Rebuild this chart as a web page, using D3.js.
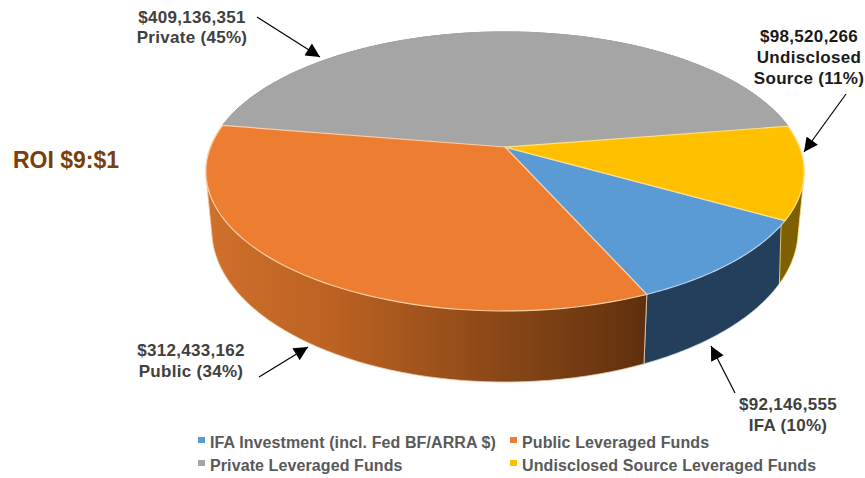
<!DOCTYPE html>
<html><head><meta charset="utf-8">
<script src="https://cdn.jsdelivr.net/npm/d3@7"></script>
<style>html,body{margin:0;padding:0;background:#fff}svg{display:block}text{font-family:"Liberation Sans",Arial,sans-serif;font-weight:bold}</style>
</head><body><svg id="c" width="865" height="478"></svg>
<script>
const categories=["IFA Investment (incl. Fed BF/ARRA $)","Public Leveraged Funds","Private Leveraged Funds","Undisclosed Source Leveraged Funds"];
const values=[92146555,312433162,409136351,98520266];
const topColors=["#5b9bd5","#ed7d31","#a5a5a5","#ffc000"];
const edgeColors=["#b9d3ec","#f9cfa8","#a5a5a5","#ffe08a"];
const valueLabels=[["$92,146,555","IFA (10%)"],["$312,433,162","Public (34%)"],["$409,136,351","Private (45%)"],["$98,520,266","Undisclosed","Source (11%)"]];
const labelColors=["#404040","#404040","#404040","#1a1a1a"];
const labelAnchors=[[788,410],[191,356],[192,23],[809,42]];
const labelLeading=[21,21,20,21];
const arrows=[[[735,393],[711,346]],[[259,377],[308,347]],[[257,17],[320,57]],[[846,94],[804,152]]];

const svg=d3.select("#c");
const cx=505,cy=147,A=294.5,B=135.2,k=0.1756;
function proj(a){ // a: d3.pie angle (clockwise from north)
  const u=Math.sin(a),v=-Math.cos(a),w=1-k*v;
  return [A*u/w,B*v/w];
}
const topPt=a=>{const p=proj(a);return [cx+p[0],cy+p[1]]};
const botPt=a=>{const p=proj(a);return [cx+0.98*p[0],cy+56.6+1.088*p[1]]};
const line=d3.line();
const pie=d3.pie().sort(null).startAngle(119.8*Math.PI/180).endAngle((119.8+360)*Math.PI/180);
const arcs=pie(values);
const samples=d=>d3.range(0,61).map(i=>d.startAngle+(d.endAngle-d.startAngle)*i/60);

const defs=svg.append("defs");
const g1=defs.append("linearGradient").attr("id","wallOrange").attr("gradientUnits","userSpaceOnUse")
  .attr("x1",205).attr("x2",645).attr("y1",0).attr("y2",0);
[[0,"#d0702b"],[0.3,"#bb6122"],[0.6,"#934c19"],[1,"#5f300e"]].forEach(s=>g1.append("stop").attr("offset",s[0]).attr("stop-color",s[1]));
defs.append("marker").attr("id","tip").attr("viewBox","0 0 10 10").attr("refX",10).attr("refY",5)
  .attr("markerWidth",15).attr("markerHeight",14).attr("markerUnits","userSpaceOnUse").attr("orient","auto")
  .append("path").attr("d","M0,0L10,5L0,10Z").attr("fill","#000");

const wallFills=["#243f5b","url(#wallOrange)","#6a6a6a","#7f6000"];
const wallEdges=["#d9dfe5","#f3c9a4","#6a6a6a","#ffe08a"];
svg.append("g").selectAll("path").data(arcs).join("path")
  .attr("d",d=>{const s=samples(d);return line(d3.polygonHull(s.map(topPt).concat(s.map(botPt))))+"Z"})
  .attr("fill",(d,i)=>wallFills[i]).attr("stroke",(d,i)=>wallEdges[i]).attr("stroke-width",0.8)
  .filter((d,i)=>i===1).raise();
svg.append("g").selectAll("path").data(arcs).join("path")
  .attr("d",d=>line([[cx,cy]].concat(samples(d).map(topPt)))+"Z")
  .attr("fill",(d,i)=>topColors[i]).attr("stroke",(d,i)=>edgeColors[i]).attr("stroke-width",1.2).attr("stroke-linejoin","round")
  .filter((d,i)=>i===2).lower();

svg.append("g").selectAll("line").data(arrows).join("line")
  .attr("x1",d=>d[0][0]).attr("y1",d=>d[0][1]).attr("x2",d=>d[1][0]).attr("y2",d=>d[1][1])
  .attr("stroke","#000").attr("stroke-width",1.2).attr("marker-end","url(#tip)");

valueLabels.forEach((lines,i)=>{
  svg.append("g").selectAll("text").data(lines).join("text")
    .attr("x",labelAnchors[i][0]).attr("y",(d,j)=>labelAnchors[i][1]+j*labelLeading[i])
    .attr("text-anchor","middle").attr("font-size",17).attr("letter-spacing",0.3).attr("fill",labelColors[i]).text(d=>d);
});
svg.append("text").attr("x",13).attr("y",168).attr("font-size",23).attr("fill","#7a3f0b").text("ROI $9:$1");

const legendX=[198,510],legendY=[448,471];
const lg=svg.append("g").selectAll("g").data(categories).join("g")
  .attr("transform",(d,i)=>`translate(${legendX[i%2]},${legendY[i>>1]})`);
lg.append("rect").attr("x",0).attr("y",-11).attr("width",7).attr("height",6).attr("fill",(d,i)=>topColors[i]);
lg.append("text").attr("x",12).attr("y",0).attr("font-size",16).attr("letter-spacing",0.1).attr("fill","#595959").text(d=>d);
</script></body></html>
